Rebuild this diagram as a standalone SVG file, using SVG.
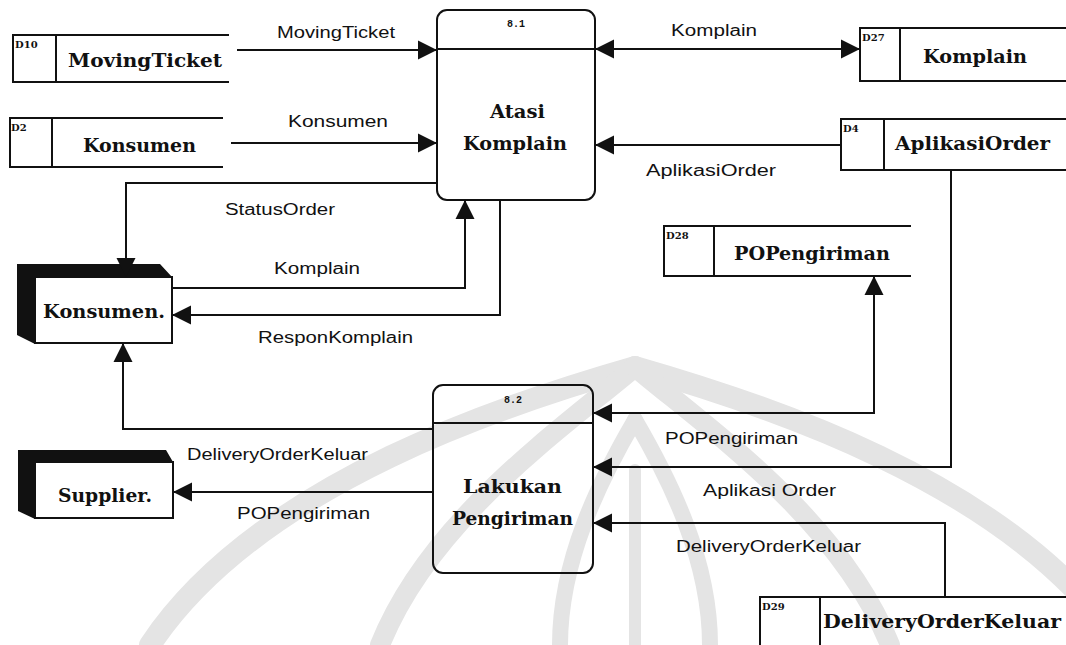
<svg xmlns="http://www.w3.org/2000/svg" width="1066" height="645" viewBox="0 0 1066 645">
  <defs>
    <style>
      .wm { fill: none; stroke: #e4e4e4; stroke-linecap: round; }
      .box { fill: none; stroke: #111; stroke-width: 2; }
      .ln { fill: none; stroke: #111; stroke-width: 2; }
      .flow { fill: none; stroke: #111; stroke-width: 2; marker-end: url(#ah); }
      .flow2 { fill: none; stroke: #111; stroke-width: 2; marker-end: url(#ah); marker-start: url(#ah); }
      .title { font-family: "DejaVu Serif", "Liberation Serif", serif; font-weight: bold; font-size: 18px; fill: #111; }
      .lbl { font-family: "Liberation Sans", Arial, sans-serif; font-size: 16px; fill: #111; }
      .num { font-family: "Liberation Mono", monospace; font-weight: bold; font-size: 10px; fill: #111; }
      .sid { font-family: "DejaVu Serif", serif; font-weight: bold; font-size: 10px; fill: #111; }
    </style>
    <marker id="ah" viewBox="0 0 20 20" refX="20" refY="10" markerUnits="userSpaceOnUse" markerWidth="19" markerHeight="20" orient="auto-start-reverse">
      <path d="M0,0 L20,10 L0,20 z" fill="#111"/>
    </marker>
  </defs>

  <rect width="1066" height="645" fill="#ffffff"/>

  <!-- faint background emblem -->
  <g id="emblem" class="wm">
    <path d="M635,367 C520,400 260,480 150,645" stroke-width="22"/>
    <path d="M635,367 C750,400 1010,480 1120,645" stroke-width="22"/>
    <path d="M635,367 C560,430 430,520 380,645" stroke-width="20"/>
    <path d="M635,367 C710,430 840,520 890,645" stroke-width="20"/>
    <path d="M635,420 C600,480 560,560 560,645" stroke-width="16"/>
    <path d="M635,420 C670,480 710,560 710,645" stroke-width="16"/>
    <path d="M635,470 L635,645" stroke-width="12"/>
  </g>

  <!-- data stores -->
  <g id="store-d10">
    <path class="ln" d="M229,35 H13 V82 H229 M56,35 V82"/>
    <text class="sid" x="15" y="48">D10</text>
    <text class="title" x="68" y="67" textLength="154" lengthAdjust="spacingAndGlyphs">MovingTicket</text>
  </g>
  <g id="store-d2">
    <path class="ln" d="M223,118 H10 V167 H223 M52,118 V167"/>
    <text class="sid" x="11" y="131">D2</text>
    <text class="title" x="83" y="152" textLength="113" lengthAdjust="spacingAndGlyphs">Konsumen</text>
  </g>
  <g id="store-d27">
    <path class="ln" d="M1066,28 H860 V81 H1066 M900,28 V81"/>
    <text class="sid" x="862" y="41">D27</text>
    <text class="title" x="923" y="63" textLength="104" lengthAdjust="spacingAndGlyphs">Komplain</text>
  </g>
  <g id="store-d4">
    <path class="ln" d="M1066,119 H841 V170 H1066 M884,119 V170"/>
    <text class="sid" x="843" y="132">D4</text>
    <text class="title" x="895" y="150" textLength="155" lengthAdjust="spacingAndGlyphs">AplikasiOrder</text>
  </g>
  <g id="store-d28">
    <path class="ln" d="M911,226 H664 V276 H911 M714,226 V276"/>
    <text class="sid" x="666" y="239">D28</text>
    <text class="title" x="734" y="260" textLength="156" lengthAdjust="spacingAndGlyphs">POPengiriman</text>
  </g>
  <g id="store-d29">
    <path class="ln" d="M1066,597 H760 V660 M820,597 V660"/>
    <text class="sid" x="762" y="610">D29</text>
    <text class="title" x="823" y="628" textLength="238" lengthAdjust="spacingAndGlyphs">DeliveryOrderKeluar</text>
  </g>

  <!-- processes -->
  <g id="proc-8-1">
    <rect class="box" x="437" y="10" width="158" height="190" rx="10"/>
    <line class="ln" x1="437" y1="49" x2="595" y2="49"/>
    <text class="num" x="516" y="27" text-anchor="middle">8.1</text>
    <text class="title" x="490" y="118" textLength="55" lengthAdjust="spacingAndGlyphs">Atasi</text>
    <text class="title" x="463" y="150" textLength="104" lengthAdjust="spacingAndGlyphs">Komplain</text>
  </g>
  <g id="proc-8-2">
    <rect class="box" x="433" y="385" width="160" height="188" rx="10"/>
    <line class="ln" x1="433" y1="423" x2="593" y2="423"/>
    <text class="num" x="513" y="403" text-anchor="middle">8.2</text>
    <text class="title" x="463" y="493" textLength="99" lengthAdjust="spacingAndGlyphs">Lakukan</text>
    <text class="title" x="452" y="525" textLength="121" lengthAdjust="spacingAndGlyphs">Pengiriman</text>
  </g>

  <!-- external entities -->
  <g id="ext-konsumen">
    <polygon points="17,264 160,264 172,277 35,277 35,344 17,335" fill="#111"/>
    <rect class="box" x="35" y="277" width="137" height="66" fill="#fff"/>
    <text class="title" x="43" y="318" textLength="122" lengthAdjust="spacingAndGlyphs">Konsumen.</text>
  </g>
  <g id="ext-supplier">
    <polygon points="18,450 166,450 173,462 35,462 35,519 18,511" fill="#111"/>
    <rect class="box" x="35" y="462" width="138" height="56" fill="#fff"/>
    <text class="title" x="58" y="502" textLength="94" lengthAdjust="spacingAndGlyphs">Supplier.</text>
  </g>

  <!-- data flows -->
  <g id="flows">
    <path class="flow" d="M237,50 H437"/>
    <path class="flow" d="M231,143 H437"/>
    <path class="flow2" d="M595,49 H860"/>
    <path class="flow" d="M841,145 H595"/>
    <path class="flow" d="M437,183 H126 V277"/>
    <path class="flow" d="M172,288 H465 V200"/>
    <path class="flow" d="M500,200 V315 H172"/>
    <path class="flow" d="M433,429 H123 V343"/>
    <path class="flow" d="M433,492 H173"/>
    <path class="flow2" d="M593,413 H874 V276"/>
    <path class="flow" d="M951,170 V467 H593"/>
    <path class="flow" d="M945,597 V523 H593"/>

    <text class="lbl" x="277" y="38" textLength="118" lengthAdjust="spacingAndGlyphs">MovingTicket</text>
    <text class="lbl" x="288" y="127" textLength="100" lengthAdjust="spacingAndGlyphs">Konsumen</text>
    <text class="lbl" x="671" y="36" textLength="86" lengthAdjust="spacingAndGlyphs">Komplain</text>
    <text class="lbl" x="646" y="176" textLength="130" lengthAdjust="spacingAndGlyphs">AplikasiOrder</text>
    <text class="lbl" x="225" y="215" textLength="110" lengthAdjust="spacingAndGlyphs">StatusOrder</text>
    <text class="lbl" x="274" y="274" textLength="86" lengthAdjust="spacingAndGlyphs">Komplain</text>
    <text class="lbl" x="258" y="343" textLength="155" lengthAdjust="spacingAndGlyphs">ResponKomplain</text>
    <text class="lbl" x="187" y="460" textLength="181" lengthAdjust="spacingAndGlyphs">DeliveryOrderKeluar</text>
    <text class="lbl" x="237" y="519" textLength="133" lengthAdjust="spacingAndGlyphs">POPengiriman</text>
    <text class="lbl" x="665" y="444" textLength="133" lengthAdjust="spacingAndGlyphs">POPengiriman</text>
    <text class="lbl" x="703" y="496" textLength="133" lengthAdjust="spacingAndGlyphs">Aplikasi Order</text>
    <text class="lbl" x="676" y="552" textLength="185" lengthAdjust="spacingAndGlyphs">DeliveryOrderKeluar</text>
  </g>
</svg>
